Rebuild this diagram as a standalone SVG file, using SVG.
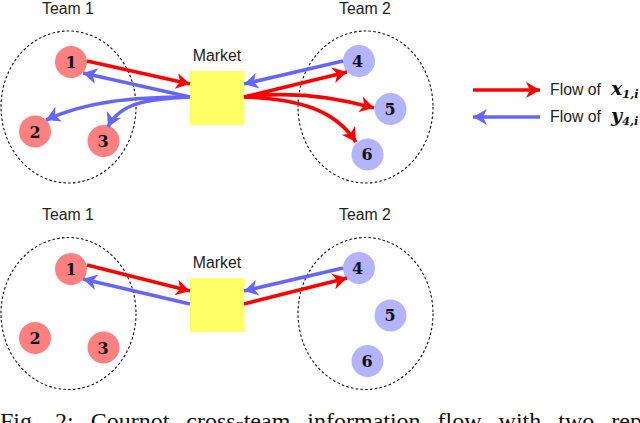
<svg xmlns="http://www.w3.org/2000/svg" width="640" height="423" viewBox="0 0 640 423">
<style>
.lbl{font-family:"Liberation Sans",Arial,sans-serif;font-size:15.800px;fill:#222;text-anchor:middle}
.leg{font-family:"Liberation Sans",Arial,sans-serif;font-size:15.800px;fill:#222}
.num{font-family:"DejaVu Serif","Liberation Serif",serif;font-weight:bold;font-size:16px;fill:#111;text-anchor:middle}
.team{fill:none;stroke:#111;stroke-width:1.1;stroke-dasharray:2.6 2.2}
.red{fill:#ff8080}.blue{fill:#b3b3ff}
.r{fill:none;stroke:#ff0000;stroke-width:3.6;marker-end:url(#hr)}
.b{fill:none;stroke:#6666ff;stroke-width:3.6;marker-end:url(#hb)}
.m{fill:#ffff66}
.math{font-family:"DejaVu Serif","Liberation Serif",serif;font-weight:bold;font-style:italic;fill:#111}
.cap{font-family:"Liberation Serif","Times New Roman",serif;font-size:24px;fill:#111;word-spacing:11px}
</style>
<defs>
<marker id="hr" markerUnits="userSpaceOnUse" markerWidth="20" markerHeight="20" refX="14" refY="8" orient="auto" viewBox="0 0 20 16"><path d="M0,0 L14,8 L0,16 L4,8Z" fill="#ff0000"/></marker>
<marker id="hb" markerUnits="userSpaceOnUse" markerWidth="20" markerHeight="20" refX="14" refY="8" orient="auto" viewBox="0 0 20 16"><path d="M0,0 L14,8 L0,16 L4,8Z" fill="#6666ff"/></marker>
</defs>
<g id="top-team-labels">
<text class="lbl" x="68" y="13.500">Team 1</text><text class="lbl" x="365" y="13.500">Team 2</text><text class="lbl" x="217" y="60.500">Market</text>
</g>
<ellipse id="top-team1" class="team" cx="68.500" cy="107" rx="67.500" ry="76"/>
<ellipse id="top-team2" class="team" cx="365.500" cy="107" rx="67.500" ry="76"/>
<g id="top-market"><rect class="m" x="190" y="71" width="54.500" height="54"/></g>
<g id="n1"><circle class="red" cx="71" cy="62" r="16"/><text class="num" x="71" y="68">1</text></g>
<g id="n2"><circle class="red" cx="35" cy="131.500" r="16"/><text class="num" x="35" y="137.500">2</text></g>
<g id="n3"><circle class="red" cx="103.500" cy="141" r="16"/><text class="num" x="103" y="147">3</text></g>
<g id="n4"><circle class="blue" cx="359" cy="61" r="16"/><text class="num" x="357.500" y="66.500">4</text></g>
<g id="n5"><circle class="blue" cx="390.500" cy="109" r="16"/><text class="num" x="390" y="114.500">5</text></g>
<g id="n6"><circle class="blue" cx="367.500" cy="154.500" r="16"/><text class="num" x="367" y="160">6</text></g>
<g id="connectors-top">
<path class="r" d="M87,61 L190,84"/>
<path class="b" d="M190,97 L83,73"/>
<path class="b" d="M190,97 C130,97 85,102 46,120"/>
<path class="b" d="M190,97 C150,99 120,102 108,127"/>
<path class="b" d="M343,61 L244,84"/>
<path class="r" d="M244,97 L347,72"/>
<path class="r" d="M244,97 C290,91 335,97 374,108"/>
<path class="r" d="M244,97 C300,99 335,110 356,142"/>
</g>
<g id="legend">
<path class="r" d="M473,90 L540,90"/><path class="b" d="M540,117 L473,117"/>
<text class="leg" x="550" y="95">Flow of</text><text class="leg" x="550" y="122">Flow of</text>
<text class="math" x="611" y="95" font-size="19">x<tspan font-size="11.500" dy="3">1,i</tspan></text>
<text class="math" x="611" y="122" font-size="19">y<tspan font-size="11.500" dy="3">4,i</tspan></text>
</g>
<g id="bottom-team-labels">
<text class="lbl" x="68" y="220">Team 1</text><text class="lbl" x="365" y="220">Team 2</text><text class="lbl" x="217" y="267.500">Market</text>
</g>
<ellipse id="bot-team1" class="team" cx="68.500" cy="313.500" rx="67.500" ry="76"/>
<ellipse id="bot-team2" class="team" cx="365.500" cy="313.500" rx="67.500" ry="76"/>
<g id="bot-market"><rect class="m" x="190" y="278" width="54.500" height="54"/></g>
<g id="b1"><circle class="red" cx="71" cy="269" r="16"/><text class="num" x="71" y="275">1</text></g>
<g id="b2"><circle class="red" cx="35" cy="338" r="16"/><text class="num" x="35" y="344">2</text></g>
<g id="b3"><circle class="red" cx="103.500" cy="347.500" r="16"/><text class="num" x="103" y="353.500">3</text></g>
<g id="b4"><circle class="blue" cx="359" cy="268" r="16"/><text class="num" x="357.500" y="274">4</text></g>
<g id="b5"><circle class="blue" cx="390.500" cy="315.500" r="16"/><text class="num" x="390" y="321">5</text></g>
<g id="b6"><circle class="blue" cx="367.500" cy="361" r="16"/><text class="num" x="367" y="366.500">6</text></g>
<g id="connectors-bottom">
<path class="r" d="M87,265 L190,291"/>
<path class="b" d="M190,304 L83,279"/>
<path class="b" d="M343,268 L244,291"/>
<path class="r" d="M244,304 L347,278"/>
</g>
<text id="caption" class="cap" x="0" y="429">Fig. 2: Cournot cross-team information flow with two rep</text>
</svg>
